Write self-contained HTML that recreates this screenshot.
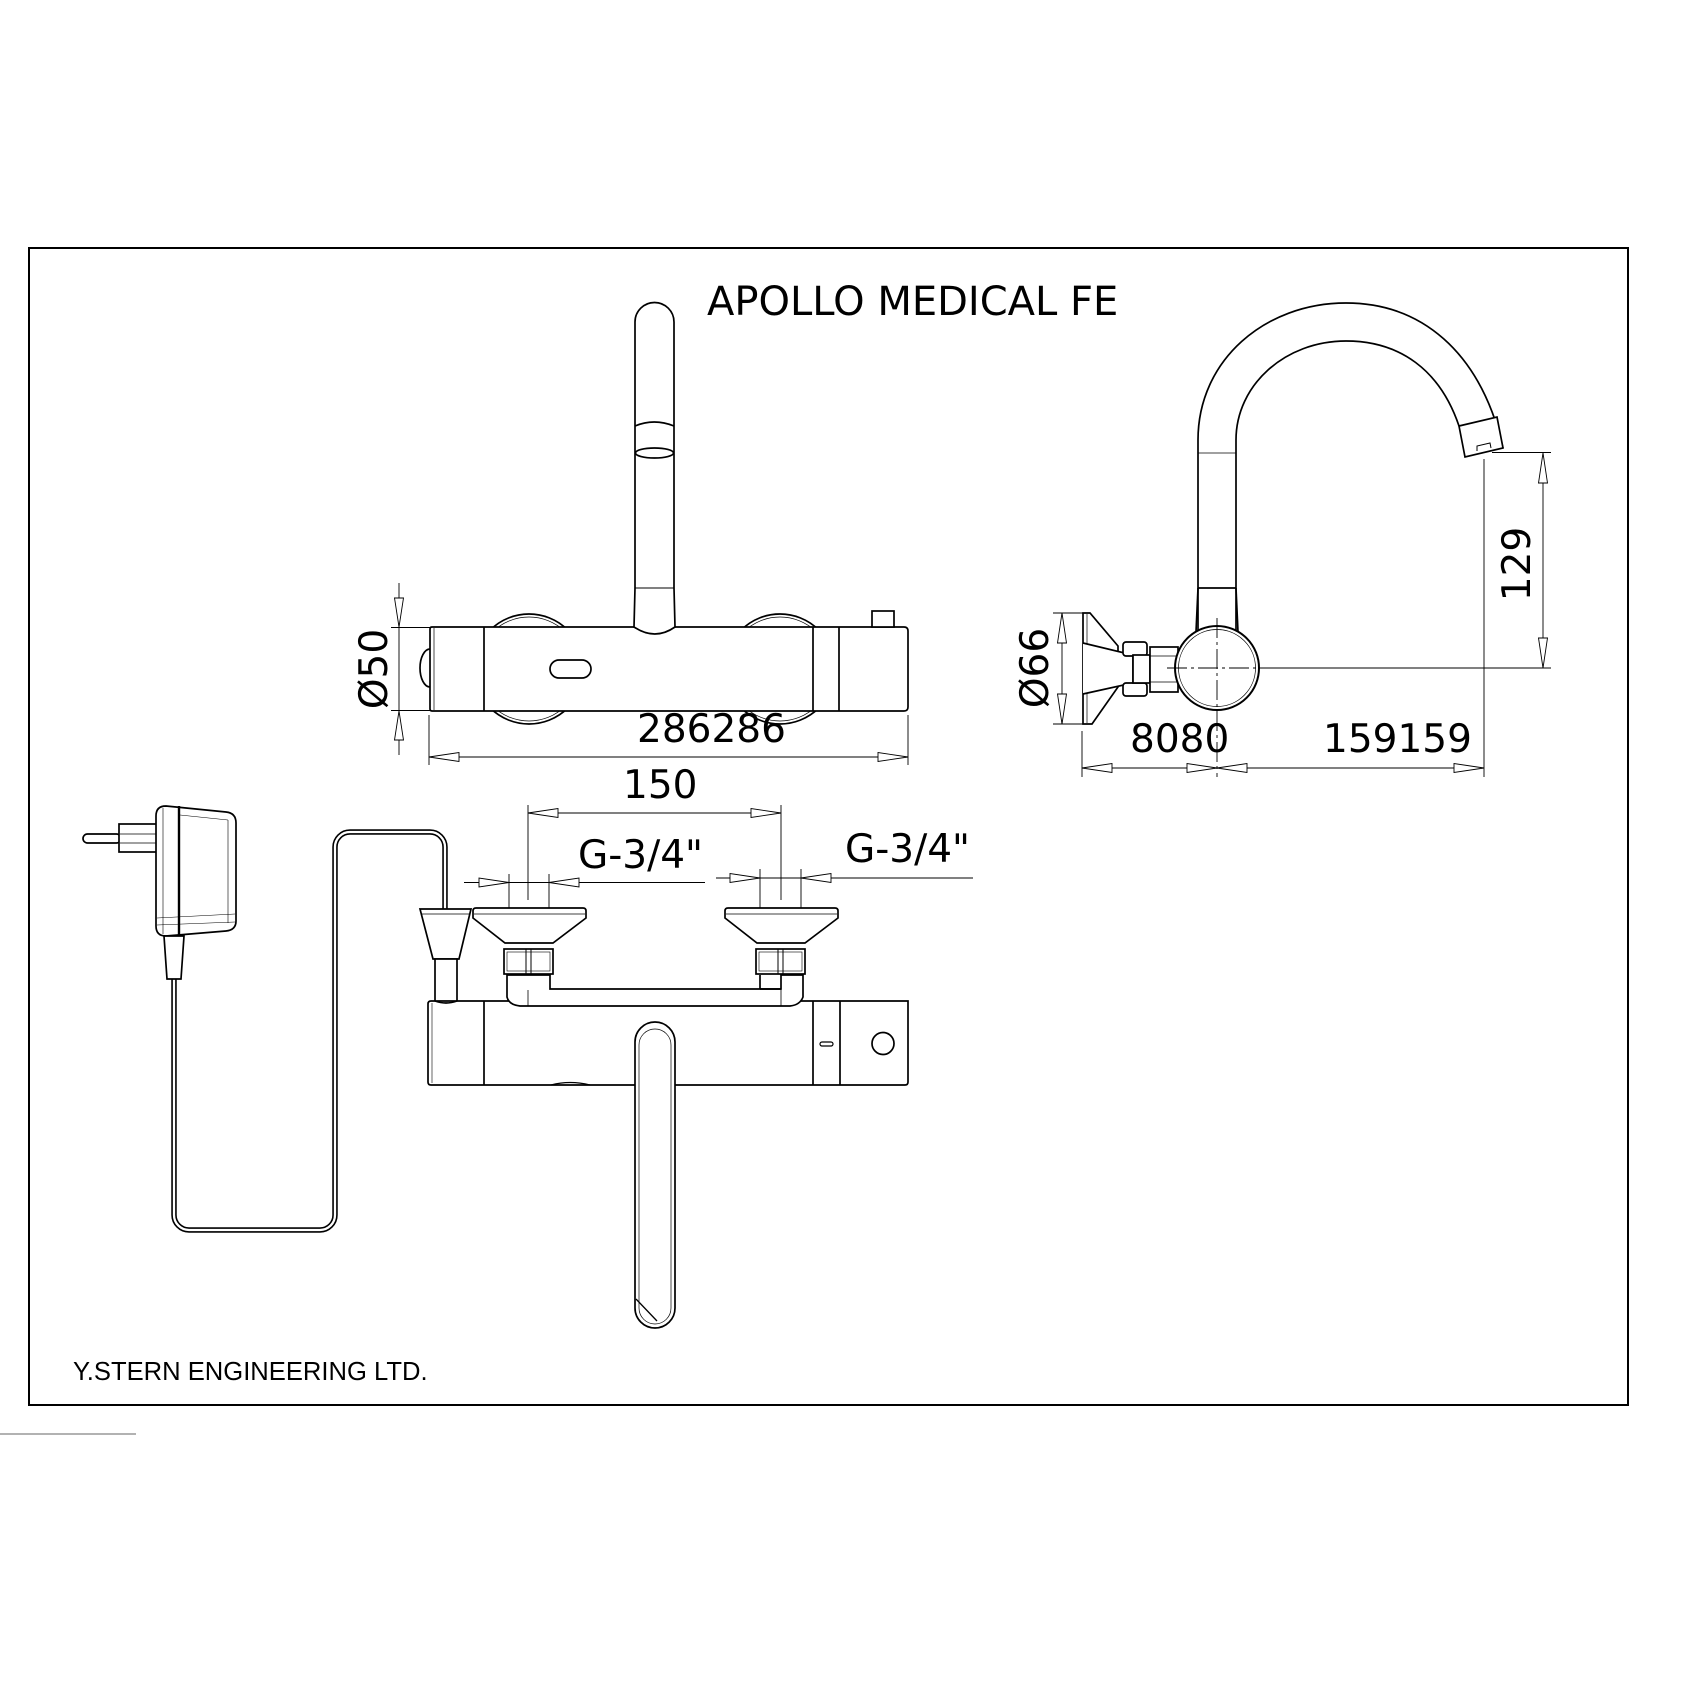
<!DOCTYPE html>
<html>
<head>
<meta charset="utf-8">
<style>
html,body{margin:0;padding:0;background:#fff;}
svg{display:block;}
.dj{font-family:"DejaVu Sans","Liberation Sans",sans-serif;fill:#000;}
.lib{font-family:"Liberation Sans",Arial,sans-serif;fill:#000;}
</style>
</head>
<body>
<svg width="1684" height="1684" viewBox="0 0 1684 1684" xmlns="http://www.w3.org/2000/svg">
<rect x="0" y="0" width="1684" height="1684" fill="#fff"/>
<!-- border -->
<rect x="29" y="248" width="1599" height="1157" fill="none" stroke="#000" stroke-width="2"/>
<line x1="0" y1="1434" x2="136" y2="1434" stroke="#666" stroke-width="1"/>

<!-- title -->
<text x="707" y="315" class="dj" font-size="40">APOLLO MEDICAL FE</text>

<!-- ================= TOP VIEW ================= -->
<g stroke="#000" fill="#fff" stroke-width="1.7">
  <!-- wheels -->
  <circle cx="529" cy="669" r="55"/>
  <circle cx="529" cy="669" r="52" stroke-width="0.7" fill="none"/>
  <circle cx="780" cy="669" r="55"/>
  <circle cx="780" cy="669" r="52" stroke-width="0.7" fill="none"/>
  <!-- left bulge -->
  <path d="M430 649 A10 19 0 0 0 430 687"/>
  <!-- body -->
  <path d="M432 627 L904 627 Q908 627 908 631 L908 707 Q908 711 904 711 L432 711 Q430 711 430 709 L430 629 Q430 627 432 627 Z"/>
  <line x1="434" y1="628" x2="434" y2="710" stroke-width="0.7"/>
  <line x1="484" y1="627" x2="484" y2="711"/>
  <line x1="813" y1="627" x2="813" y2="711"/>
  <line x1="839" y1="627" x2="839" y2="711"/>
  <rect x="550" y="660" width="41" height="18" rx="9"/>
  <rect x="872" y="611" width="22" height="16"/>
  <!-- spout -->
  <path d="M634 627 L635 588 L635 322 A19.5 19.5 0 0 1 674 322 L674 588 L675 627 Q655 641 634 627 Z"/>
  <line x1="635" y1="588" x2="674" y2="588" stroke-width="1"/>
  <path d="M635 426 Q654 418 674 426" fill="none"/>
  <ellipse cx="654.5" cy="453" rx="19" ry="5"/>
</g>

<!-- top view dims -->
<g stroke="#000" stroke-width="0.9" fill="none">
  <line x1="399" y1="583" x2="399" y2="755"/>
  <line x1="391" y1="627.5" x2="430" y2="627.5"/>
  <line x1="391" y1="710.5" x2="430" y2="710.5"/>
  <line x1="429" y1="715" x2="429" y2="765"/>
  <line x1="908" y1="715" x2="908" y2="765"/>
  <line x1="429" y1="757" x2="908" y2="757"/>
  <line x1="528" y1="805" x2="528" y2="900"/>
  <line x1="781" y1="805" x2="781" y2="900"/>
  <line x1="528" y1="813" x2="781" y2="813"/>
  <line x1="464" y1="882.5" x2="705" y2="882.5"/>
  <line x1="509" y1="874" x2="509" y2="943"/>
  <line x1="549" y1="874" x2="549" y2="943"/>
  <line x1="716" y1="878" x2="973" y2="878"/>
  <line x1="760" y1="869" x2="760" y2="943"/>
  <line x1="801" y1="869" x2="801" y2="943"/>
</g>
<g stroke="#000" stroke-width="0.9" fill="#fff">
  <polygon points="399,627 394.5,598 403.5,598"/>
  <polygon points="399,711 394.5,740 403.5,740"/>
  <polygon points="429,757 459,752.5 459,761.5"/>
  <polygon points="908,757 878,752.5 878,761.5"/>
  <polygon points="528,813 558,808.5 558,817.5"/>
  <polygon points="781,813 751,808.5 751,817.5"/>
  <polygon points="509,882.5 479,878 479,887"/>
  <polygon points="549,882.5 579,878 579,887"/>
  <polygon points="760,878 730,873.5 730,882.5"/>
  <polygon points="801,878 831,873.5 831,882.5"/>
</g>
<text class="dj" font-size="39" text-anchor="middle" transform="translate(387,669) rotate(-90)">Ø50</text>
<text x="637" y="742" class="dj" font-size="39">286286</text>
<text x="623" y="798" class="dj" font-size="39">150</text>
<text x="578" y="868" class="dj" font-size="39">G-3/4"</text>
<text x="845" y="862" class="dj" font-size="39">G-3/4"</text>

<!-- ================= SIDE VIEW ================= -->
<g stroke="#000" fill="none" stroke-width="1.7">
  <path d="M1198 632 L1198 440 C1198 360 1265 303 1346 303 C1420 303 1480 350 1503 448"/>
  <path d="M1236 632 L1236 440 C1236 385 1285 341 1346 341 C1400 341 1440 370 1459 426"/>
  <path d="M1459 426 L1497 417 L1503 448 L1465 457 Z" fill="#fff"/>
  <path d="M1477 451 L1477 446 L1490 443 L1491 448" stroke-width="1"/>
  <line x1="1198" y1="453" x2="1236" y2="453" stroke-width="0.8"/>
  <line x1="1198" y1="588" x2="1236" y2="588"/>
  <line x1="1196" y1="632" x2="1198" y2="588"/>
  <line x1="1238" y1="632" x2="1236" y2="588"/>
  <!-- wall plate -->
  <path d="M1083 613 L1090 613 L1118 646 L1118 687 L1092 724 L1083 724 Z" fill="#fff"/>
  <line x1="1087" y1="614" x2="1087" y2="723" stroke-width="0.7"/>
  <path d="M1083 643 L1133 655 L1133 683 L1083 694" fill="#fff"/>
  <!-- nuts -->
  <rect x="1123" y="642" width="24" height="14" rx="3" fill="#fff"/>
  <rect x="1123" y="683" width="24" height="13" rx="3" fill="#fff"/>
  <rect x="1133" y="655" width="17" height="28" fill="#fff"/>
  <rect x="1150" y="647" width="28" height="45" fill="#fff"/>
  <line x1="1150" y1="656" x2="1178" y2="656" stroke-width="0.8"/>
  <line x1="1150" y1="682" x2="1178" y2="682" stroke-width="0.8"/>
  <!-- round body -->
  <circle cx="1217" cy="668" r="42" fill="#fff" stroke-width="2"/>
  <circle cx="1217" cy="668" r="38.5" stroke-width="0.7"/>
</g>
<g stroke="#000" stroke-width="0.9" fill="none">
  <line x1="1217" y1="618" x2="1217" y2="777" stroke-dasharray="20,4,3,4"/>
  <line x1="1167" y1="668" x2="1258" y2="668" stroke-dasharray="20,4,3,4"/>
  <line x1="1258" y1="668" x2="1551" y2="668"/>
  <line x1="1492" y1="452.5" x2="1551" y2="452.5"/>
  <line x1="1543" y1="452" x2="1543" y2="668"/>
  <line x1="1484" y1="459" x2="1484" y2="777"/>
  <line x1="1082" y1="731" x2="1082" y2="777"/>
  <line x1="1082" y1="768" x2="1484" y2="768"/>
  <line x1="1062" y1="613" x2="1062" y2="724"/>
  <line x1="1053" y1="613" x2="1083" y2="613"/>
  <line x1="1053" y1="724" x2="1083" y2="724"/>
</g>
<g stroke="#000" stroke-width="0.9" fill="#fff">
  <polygon points="1062,613 1057.5,643 1066.5,643"/>
  <polygon points="1062,724 1057.5,694 1066.5,694"/>
  <polygon points="1543,453 1538.5,483 1547.5,483"/>
  <polygon points="1543,668 1538.5,638 1547.5,638"/>
  <polygon points="1082,768 1112,763.5 1112,772.5"/>
  <polygon points="1217,768 1187,763.5 1187,772.5"/>
  <polygon points="1217,768 1247,763.5 1247,772.5"/>
  <polygon points="1484,768 1454,763.5 1454,772.5"/>
</g>
<text class="dj" font-size="39" text-anchor="middle" transform="translate(1048,668) rotate(-90)">Ø66</text>
<text class="dj" font-size="39" text-anchor="middle" transform="translate(1530,564) rotate(-90)">129</text>
<text x="1130" y="752" class="dj" font-size="39">8080</text>
<text x="1323" y="752" class="dj" font-size="39">159159</text>

<!-- ================= BOTTOM VIEW ================= -->
<!-- cord -->
<path d="M174 979 L174 1215 A15 15 0 0 0 189 1230 L320 1230 A15 15 0 0 0 335 1215 L335 847 A15 15 0 0 1 350 832 L430 832 A15 15 0 0 1 445 847 L445 910" fill="none" stroke="#000" stroke-width="5.5"/>
<path d="M174 979 L174 1215 A15 15 0 0 0 189 1230 L320 1230 A15 15 0 0 0 335 1215 L335 847 A15 15 0 0 1 350 832 L430 832 A15 15 0 0 1 445 847 L445 910" fill="none" stroke="#fff" stroke-width="2.3"/>

<g stroke="#000" fill="#fff" stroke-width="1.7">
  <!-- adapter -->
  <rect x="83" y="834" width="38" height="9" rx="4.5"/>
  <rect x="119" y="824" width="38" height="28"/>
  <line x1="120" y1="834" x2="156" y2="834" stroke-width="0.7"/>
  <line x1="120" y1="843" x2="156" y2="843" stroke-width="0.7"/>
  <path d="M166 806 L226 812 Q236 813 236 823 L236 921 Q236 930 226 931 L166 936 Q156 936 156 926 L156 816 Q156 806 166 806 Z"/>
  <line x1="179" y1="806" x2="179" y2="936" stroke-width="2.4"/>
  <line x1="163" y1="808" x2="163" y2="934" stroke-width="0.6"/>
  <line x1="228" y1="820" x2="228" y2="923" stroke-width="0.6"/>
  <line x1="180" y1="815" x2="228" y2="820" stroke-width="0.6"/>
  <line x1="157" y1="918" x2="235" y2="914" stroke-width="0.6"/>
  <line x1="157" y1="925" x2="235" y2="922" stroke-width="0.6"/>
  <polygon points="164,936 184,936 181,979 167,979"/>

  <!-- cable gland -->
  <polygon points="420,909 471,909 459,959 433,959"/>
  <line x1="421" y1="914" x2="470" y2="914" stroke-width="0.7"/>
  <rect x="435" y="959" width="22" height="44"/>

  <!-- escutcheons -->
  <path d="M476 908 L583 908 Q586 908 586 911 L586 918 L553 943 L505 943 L473 918 L473 911 Q473 908 476 908 Z"/>
  <line x1="474" y1="914" x2="585" y2="914" stroke-width="0.7"/>
  <path d="M728 908 L835 908 Q838 908 838 911 L838 918 L805 943 L757 943 L725 918 L725 911 Q725 908 728 908 Z"/>
  <line x1="726" y1="914" x2="837" y2="914" stroke-width="0.7"/>

  <!-- nuts -->
  <rect x="504" y="949" width="49" height="25"/>
  <rect x="507" y="952" width="43" height="19" stroke-width="0.6" fill="none"/>
  <line x1="526" y1="949" x2="526" y2="974" stroke-width="1"/>
  <line x1="531" y1="949" x2="531" y2="974" stroke-width="1"/>
  <rect x="756" y="949" width="49" height="25"/>
  <rect x="759" y="952" width="43" height="19" stroke-width="0.6" fill="none"/>
  <line x1="778" y1="949" x2="778" y2="974" stroke-width="1"/>
  <line x1="783" y1="949" x2="783" y2="974" stroke-width="1"/>

  <!-- body -->
  <path d="M431 1001 L908 1001 L908 1082 Q908 1085 905 1085 L431 1085 Q428 1085 428 1082 L428 1004 Q428 1001 431 1001 Z"/>
  <line x1="432" y1="1003" x2="432" y2="1083" stroke-width="0.6"/>
  <line x1="484" y1="1001" x2="484" y2="1085"/>
  <line x1="813" y1="1001" x2="813" y2="1085"/>
  <line x1="840" y1="1001" x2="840" y2="1085"/>
  <!-- pipes / bar -->
  <path d="M507 975 L550 975 L550 989 L781 989 L781 975 L803 975 L803 997 Q800 1005 790 1006 L520 1006 Q509 1005 507 997 Z"/>
  <line x1="528" y1="990" x2="528" y2="1006" stroke-width="0.8"/>
  <line x1="781" y1="990" x2="781" y2="1006" stroke-width="0.8"/>
  <line x1="760" y1="975" x2="760" y2="989"/>
  <line x1="760" y1="989" x2="781" y2="989"/>
  <path d="M435 1001 Q446 1005 457 1001" fill="none"/>
  <rect x="820" y="1042" width="13" height="4" rx="2" stroke-width="1.2"/>
  <circle cx="883" cy="1043.5" r="11"/>
  <path d="M551 1085 Q570 1080 590 1085" fill="none" stroke-width="1.2"/>

  <!-- spout -->
  <path d="M635 1042 A20 20 0 0 1 675 1042 L675 1308 A20 20 0 0 1 635 1308 Z"/>
  <path d="M639 1045 A16 16 0 0 1 671 1045" fill="none" stroke-width="0.7"/>
  <line x1="639" y1="1045" x2="639" y2="1308" stroke-width="0.7"/>
  <line x1="671" y1="1045" x2="671" y2="1308" stroke-width="0.7"/>
  <path d="M639 1308 A16 16 0 0 0 671 1308" fill="none" stroke-width="0.7"/>
  <line x1="636" y1="1299" x2="657" y2="1321" stroke-width="1.3"/>
</g>

<!-- footer -->
<text x="73" y="1380" class="lib" font-size="25.6">Y.STERN ENGINEERING LTD.</text>
</svg>
</body>
</html>
